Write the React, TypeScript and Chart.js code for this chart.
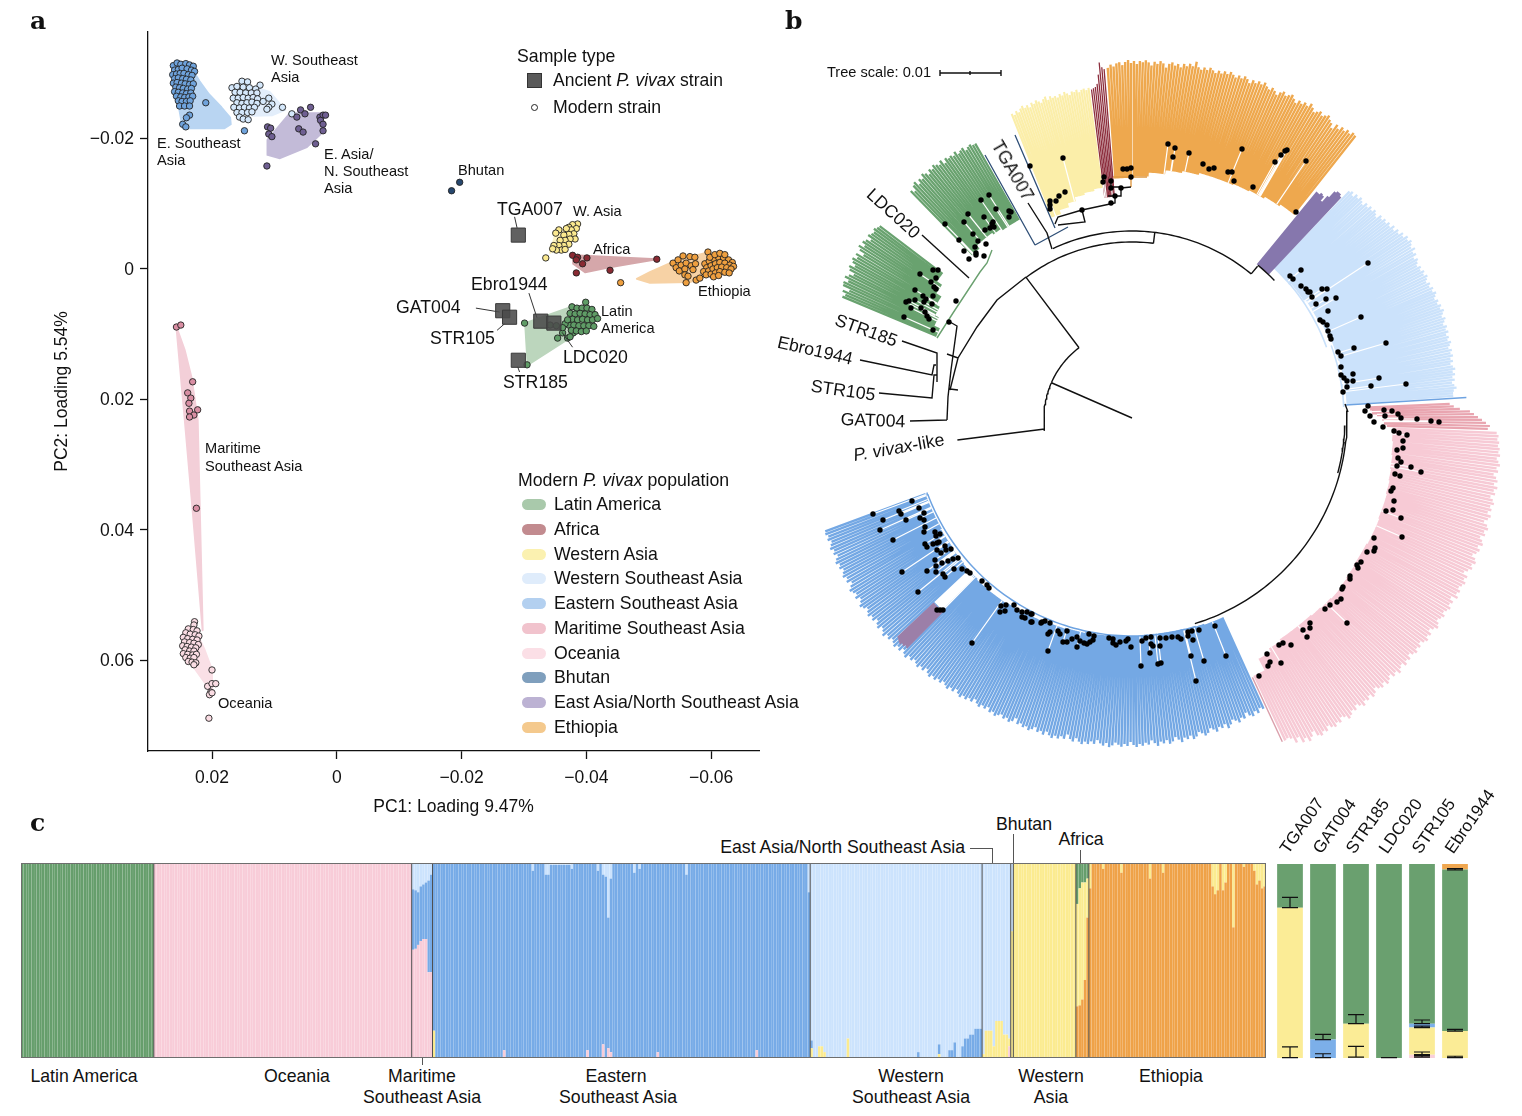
import React, { useEffect, useRef } from "react";
import { Chart, registerables } from "chart.js";

Chart.register(...registerables);

// ---------- Panel a: PCA values (loadings x 1e-4) ----------
const eSEA = [[262,-312],[256,-316],[250,-314],[242,-315],[236,-313],[230,-311],[260,-305],[254,-306],[248,-308],[240,-307],[233,-305],[228,-303],[263,-298],[257,-299],[251,-300],[245,-300],[238,-298],[232,-297],[260,-292],[254,-293],[247,-292],[241,-291],[234,-290],[262,-285],[256,-286],[249,-285],[243,-284],[236,-283],[230,-284],[258,-279],[252,-278],[246,-277],[239,-276],[233,-277],[260,-272],[254,-271],[247,-270],[241,-269],[234,-270],[257,-265],[250,-264],[244,-263],[237,-264],[231,-265],[254,-258],[248,-257],[241,-257],[235,-258],[252,-250],[244,-250],[236,-250],[236,-236],[241,-232],[247,-222],[242,-218],[210,-255],[148,-212]];
const wSEA = [[168,-278],[152,-288],[143,-287],[123,-282],[160,-280],[150,-279],[140,-278],[130,-276],[163,-271],[155,-271],[146,-270],[137,-270],[128,-270],[166,-262],[158,-262],[150,-263],[142,-262],[134,-263],[127,-261],[160,-255],[152,-254],[144,-255],[136,-256],[128,-254],[118,-257],[165,-248],[156,-247],[148,-248],[140,-247],[132,-248],[160,-240],[152,-240],[143,-240],[136,-241],[156,-233],[150,-230],[142,-229],[109,-262],[104,-253],[109,-248],[112,-245],[87,-248],[72,-238]];
const eaNSEA = [[58,-244],[51,-238],[64,-233],[42,-248],[27,-233],[22,-236],[18,-236],[26,-228],[22,-222],[22,-212],[61,-215],[54,-210],[111,-218],[106,-216],[109,-207],[104,-203],[34,-192],[112,-158]];
const bhutan = [[-197,-133],[-184,-120]];
const wAsia = [[-386,-69],[-378,-68],[-372,-64],[-384,-62],[-376,-60],[-368,-62],[-380,-54],[-372,-53],[-364,-52],[-356,-60],[-382,-46],[-374,-46],[-366,-44],[-358,-44],[-351,-55],[-372,-38],[-364,-36],[-356,-36],[-348,-36],[-360,-29],[-352,-29],[-346,-31],[-366,-30],[-335,-17]];
const africa = [[-378,-21],[-386,-18],[-384,-14],[-401,-17],[-394,-8],[-513,-15],[-438,2],[-384,6]];
const ethiopia = [[-539,-9],[-547,-14],[-555,-20],[-566,-19],[-574,-18],[-544,-2],[-552,-6],[-560,-9],[-568,-5],[-575,-8],[-549,3],[-558,0],[-571,1],[-558,9],[-563,11],[-560,21],[-576,17],[-582,14],[-595,-26],[-455,21],[-590,-8],[-597,-12],[-604,-16],[-612,-18],[-620,-17],[-628,-14],[-634,-10],[-593,-2],[-600,-5],[-607,-8],[-614,-10],[-622,-9],[-630,-6],[-636,-4],[-588,4],[-596,3],[-603,0],[-610,-2],[-617,-3],[-625,-2],[-632,0],[-592,9],[-600,8],[-607,6],[-614,4],[-622,5],[-629,6],[-598,-18],[-606,-22],[-614,-24],[-622,-22],[-604,12],[-612,10]];
const latinAm = [[-301,83],[-305,147],[-354,106],[-362,98],[-370,106],[-379,98],[-342,86],[-352,87],[-374,104],[-399,51],[-377,58],[-385,60],[-393,60],[-401,60],[-409,62],[-374,68],[-382,69],[-390,68],[-398,69],[-406,70],[-414,70],[-378,77],[-386,78],[-394,77],[-402,78],[-410,78],[-418,76],[-372,86],[-380,86],[-388,87],[-396,87],[-404,87],[-412,88],[-376,94],[-384,95],[-392,96],[-400,95],[-366,84],[-362,90],[-370,78]];
const maritime = [[257,89],[250,86],[231,173],[239,190],[234,198],[237,206],[236,218],[223,216],[229,224],[236,227],[225,367]];
const oceania = [[228,541],[229,546],[238,552],[230,553],[224,555],[242,558],[235,560],[227,561],[221,563],[246,565],[239,567],[231,568],[224,569],[244,572],[236,573],[229,574],[222,576],[247,578],[240,579],[233,580],[226,581],[243,584],[236,586],[229,586],[246,590],[239,591],[231,592],[225,591],[242,596],[235,597],[229,596],[238,602],[232,603],[226,604],[229,607],[200,615],[207,640],[200,636],[194,636],[202,649],[204,653],[200,650],[205,689]];
const ancient = [[-291,-52],[-266,64],[-277,74],[-327,80],[-348,83],[-291,140]];
const leaders = [[[-285,-80],[-289,-63]],[[-223,60],[-261,66]],[[-257,94],[-269,84]],[[-308,37],[-321,75]],[[-378,120],[-361,97]],[[-293,158],[-290,150]]];
const hullESEA = [[260,-316],[231,-305],[220,-288],[205,-268],[185,-248],[171,-232],[170,-222],[180,-216],[247,-216],[255,-259]];
const hullWSEA = [[128,-278],[107,-271],[83,-244],[103,-236],[135,-235],[156,-259]];
const hullEA = [[75,-239],[27,-239],[19,-213],[48,-187],[91,-170],[111,-175],[111,-198]];
const hullWAsia = [[-351,-55],[-385,-71],[-382,-49],[-342,-25]];
const hullAfrica = [[-379,-21],[-513,-15],[-470,-8],[-433,-2],[-398,5],[-379,-8]];
const hullEthiopia = [[-481,15],[-502,5],[-539,-11],[-593,-25],[-630,-14],[-619,2],[-566,20],[-502,21]];
const hullLatin = [[-302,83],[-377,58],[-417,67],[-401,89],[-306,147]];
const hullMaritime = [[257,89],[244,124],[233,166],[223,232],[215,554],[231,370],[244,227]];
const hullOceania = [[225,558],[212,584],[200,615],[200,650],[241,595],[236,569]];
const pcaTicksX = [0.02, 0, -0.02, -0.04, -0.06];
const pcaTicksY = [-0.02, 0, 0.02, 0.04, 0.06];

// ---------- Panel b: tree tips (radius of each tip) ----------
const tipsLowerGreen = [314,312,316,310,318,319,315,320,317,313,319,321,316,320,322,318,321,314,320,323,318,322,320,316,321,319,318,320,318,317];
const innerLowerGreen = [212,218,222,226,232,238];
const tipsUpperGreen = [317,314,319,321,316,320,318,322,320,317,321,319,322,320,318,321,316,320,318,319,317,320,316,318,319,315,317,318,316,316];
const innerUpperGreen = [228,232,232,230,228,228];
const tipsYellow = [327,325,328,326,329,331,328,330,327,331,329,332,330,328,331,333,329,332,330,331,329,332,330,333,331,329,332,331,333,330,332,333,331,333];
const innerYellow = [216,220,224,228,230,232];
const tipsRed = [331,332,333,336,345,357,352,350];
const innerRed = [222];
const tipsOrange = [351,354,352,355,356,353,356,358,355,357,354,357,356,358,356,353,357,355,358,356,352,356,358,355,357,354,358,356,359,357,362,357,355,358,356,359,357,355,358,356,359,357,360,358,356,359,357,360,358,355,359,357,360,358,361,358,356,359,357,354,358,360,357,359,361,358,355,359,357,360,358,362,359,356,358,360,357,359,361,358,356,352,358,355,359,357,360,358,361,360];
const innerOrange = [240,242,246,250,252,254,254,255,256,258,260];
const tipsPurple = [292,292,294,293,288,296,304,306,306,304];
const innerPurple = [198];
const tipsLtBlue = [314,316,313,317,315,318,316,314,318,316,319,317,320,318,316,321,319,322,320,323,321,325,322,326,324,328,326,330,328,331,329,327,330,326,328,324,327,325,323,326,324,327,325,328,326,324,327,325,328,326,329,327,325,328,326,329,327,330,328,326,329,327,325,328,326,328,325,327,325,328,326,324,327,325,327,324,326,323,325,327,324,326,323,325,322,324,326,323,322,322];
const innerLtBlue = [206,208,210,212,214,215,215];
const tipsSalmon = [318,322,328,338,342,346,350,354,358,356];
const innerSalmon = [238,240,245,250,252,255];
const tipsPink = [365,367,366,368,367,369,368,370,367,369,371,368,370,366,369,371,368,372,369,371,367,370,372,369,371,368,372,370,367,371,373,370,372,368,371,373,369,372,370,367,371,373,370,372,369,366,371,369,372,370,368,371,369,372,366,370,368,371,369,367,370,368,366,369,371,368,365,369,367,370,368,365,368,366,369,367,364,368,366,369,365,367,370,366,368,364,367,369,365,368,366,363,367,369,365,368,366,370,367,364,368,366,369,371,367,365,369,367,370,368,365,369,367,370,368,362,366,369,364,367,360,364,358,356,357];
const innerPink = [261,262,263,264,265,266,266,267,267,266,266,267,268,269,268,267,266,266,266,268,272,285];
const tipsBlue = [319,317,321,318,322,320,316,321,319,323,320,318,322,325,320,323,321,325,322,320,324,326,323,321,325,327,323,326,324,328,325,322,326,328,324,327,325,329,326,323,327,325,328,326,329,327,324,328,326,329,327,325,328,330,326,329,327,324,328,326,329,327,330,328,325,329,327,323,328,326,329,327,330,328,325,329,326,328,324,327,329,326,328,325,327,322,326,328,325,327,324,326,328,325,327,323,326,324,327,325,322,326,324,327,325,328,326,323,327,325,328,326,324,327,325,328,326,329,327,324,328,326,329,327,325,328,326,330,328,325,329,327,330,328,326,329,327,331,328,326,330,328,325,329,327,330,328,326,329,331,328,326,330,327,329,331,328,325,329,327,330,328,326,329,327,330,328,325,328,326,329,327,325,328,326,328,327];
const innerBlue = [219,218,217,217,218,218,219,220,221,222,223,224,224,223,222,221,220,220];
const tipsMauve = [322,321,323,322,324,323,322,321];
const innerMauve = [271];
const tipDots = [36,-274,43,-270,41,-261,57,-265,71,-254,77,-249,82,-250,96,-246,100,-246,102,-237,110,-269,143,-256,149,-263,153,-267,155,-268,121,-231,174,-257,164,-206,-9,-249,-5,-249,-1,-250,-1,-241,-21,-237,-21,-230,-11,-230,-17,-222,-21,-215,-50,-208,-28,-241,-29,-236,
169,-148,158,-142,161,-139,169,-132,174,-129,176,-126,178,-126,180,-121,184,-114,190,-129,195,-129,194,-119,204,-120,196,-107,236,-155,229,-101,188,-98,191,-96,195,-93,196,-87,198,-82,199,-79,222,-70,254,-75,206,-66,209,-62,209,-51,209,-43,212,-40,215,-37,221,-44,221,-37,247,-40,239,-32,274,-34,215,-31,211,-26,
236,-12,233,-7,238,-2,242,4,252,-8,260,-7,266,-4,269,0,253,-2,285,1,299,3,307,4,251,9,262,13,267,15,275,17,271,23,271,30,265,32,266,40,269,44,265,48,279,49,289,54,263,56,268,58,261,70,259,73,262,83,261,92,254,93,269,100,270,119,242,120,243,130,242,133,235,134,229,144,225,147,226,150,218,158,218,161,211,169,210,171,209,181,205,184,198,187,193,191,215,205,178,205,178,210,171,212,175,219,159,227,151,225,147,227,135,236,138,244,136,248,149,245,127,258,
83,208,94,238,67,212,72,243,60,213,56,214,56,218,61,222,59,238,64,263,49,221,46,219,40,219,34,220,28,220,28,228,19,219,14,220,10,223,19,226,21,228,18,235,26,246,29,245,9,248,-1,229,-4,221,-6,223,-12,224,-16,227,-19,225,-19,221,-23,220,-38,218,-43,216,-39,222,-42,224,-45,226,-48,225,-52,223,-55,219,-60,221,-55,229,-65,224,-69,224,-65,213,-74,213,-72,216,-82,214,-84,216,-84,233,-82,205,-87,203,-90,204,-100,204,-100,196,-105,194,-110,194,-107,200,-110,199,
-220,83,-259,96,-213,90,-233,93,-231,96,-208,95,-249,102,-226,102,-212,100,-208,102,-207,109,-252,112,-208,114,-197,114,-196,118,-192,116,-239,122,-207,126,-205,129,-199,126,-195,125,-193,124,-187,128,-181,131,-186,132,-195,132,-191,135,-197,142,-190,145,-184,143,-179,141,-174,140,-196,148,-230,154,-205,153,-196,154,-189,156,-187,159,-178,151,-170,151,-165,153,-162,155,-214,174,-150,163,-145,167,-143,170,-195,192,-189,192,-192,192,-160,225,-131,188,-126,187,-132,194,-127,193,-118,187,-115,192,-101,196,-101,204,-91,205,
-143,-223,-151,-218,-136,-209,-123,-207,-121,-206,-123,-201,-164,-204,-168,-196,-187,-194,-148,-201,-139,-196,-140,-194,-142,-190,-147,-188,-159,-184,-173,-178,-154,-177,-146,-174,-157,-171,-168,-167,-156,-165,-156,-163,-148,-162,-163,-159,-138,-191,
-199,-148,-194,-148,-212,-144,-196,-140,-201,-136,-198,-131,-196,-129,-217,-128,-199,-122,-209,-122,-206,-119,-208,-116,-217,-118,-223,-117,-226,-116,-200,-114,-221,-110,-211,-110,-207,-106,-205,-102,-203,-99,-228,-101,-199,-88,-176,-117,-183,-96,
-69,-260,-102,-252,-67,-226,-73,-222,-76,-217,-82,-217,-82,-213,-82,-209];
const blackBranches = [
  [0,0,-80,-35],[-106,-141,-135,-118,-155,-91,-174,-60,-182,-28],[-182,-29,-174,-28],[-174,-60,-185,-64],
  [-185,2,-184,-21,-181,-48,-175,-92,-182,-96],[-222,3,-185,2],[-230,-77,-195,-65,-195,-36],[-272,-58,-200,-43,-198,-53,-196,-53],[-253,-25,-200,-20,-198,-43,-195,-43],
  [-104,-215,-85,-185,-80,-169],[-74,-193,-47,-196,-50,-208,-74,-201,-77,-194],[-50,-208,-22,-214,-17,-215,-17,-222,-11,-222,-11,-230,-1,-231],[-21,-237,-21,-231,-11,-231],[-17,-222,-24,-222],
  [-192,-345,-131,-345],[-192,-348,-192,-342],[-162,-347,-162,-343],[-131,-348,-131,-342],[213,-14,216,-6]];
const blackArcs = [[88,262,323],[176,323,367],[187,335,399.6],[198,39.5,46],[215,88,163],[213,92,105]];
const blackRadials = [[262.8,88,176],[323,88,176],[7,176,187],[39.6,187,197]];
const greenBranches = [[-195,-80,-179,-105,-152,-146,-145,-155,-140,-168],[-210,-183,-163,-140]];
const navyBranches = [[-97,-173,-147,-263],[-117,-283,-77,-190],[-97,-173,-64,-191]];
const orangeBranches = [[-1,-231,-1,-241,-19,-241],[-1,-241,15,-241]];
const ltBlueArcs = [[207,46,70],[212,70,87]];
const blueArcs = [[218,163,250]];
const blueRadials = [[86.5,214,335]];
const pinkEdgeRadials = [[155.1,286,357]];
const whiteGapAngles = [224.9,225.4,225.9,226.4,226.8];
const whiteGapRadii = [225,270];

// ---------- Panel c: admixture ----------
// [bars, pink, orange, yellow, blue, light blue, green]
const admixRuns = [
  [51,0,0,0,0,0,1],[99,1,0,0,0,0,0],
  [1,.555,0,0,.31,.135,0],[1,.56,0,0,.3,.14,0],[1,.58,0,0,.27,.15,0],[1,.6,0,0,.28,.12,0],[1,.61,0,0,.28,.11,0],[1,.61,0,0,.29,.1,0],[1,.44,0,0,.47,.09,0],[1,.44,0,0,.5,.06,0],
  [1,0,0,.14,.86,0,0],[26,0,0,0,1,0,0],[1,.04,0,0,.96,0,0],[10,0,0,0,1,0,0],[1,0,0,0,.96,.04,0],[4,0,0,0,1,0,0],[2,0,0,0,.94,.06,0],[8,0,0,0,.99,.01,0],[1,0,0,0,.97,.03,0],[5,0,0,0,1,0,0],[1,.04,0,0,.96,0,0],[3,0,0,0,1,0,0],[1,0,0,0,.96,.04,0],[1,0,0,0,1,0,0],[1,.07,0,0,.87,.06,0],[1,0,0,0,.93,.07,0],[1,.05,0,0,.67,.28,0],[1,.03,0,0,.89,.08,0],[8,0,0,0,1,0,0],[1,0,0,0,.95,.05,0],[1,0,0,0,1,0,0],[1,0,0,0,.97,.03,0],[6,0,0,0,1,0,0],[1,.03,0,0,.97,0,0],[10,0,0,0,1,0,0],[1,0,0,0,.94,.06,0],[26,0,0,0,1,0,0],[1,.04,0,0,.96,0,0],[19,0,0,0,1,0,0],[1,0,0,0,.85,.15,0],
  [1,0,0,.05,.04,.91,0],[2,0,0,0,0,1,0],[2,0,0,.06,0,.94,0],[1,0,0,.03,0,.97,0],[8,0,0,0,0,1,0],[1,0,0,.1,0,.9,0],[26,0,0,0,0,1,0],[1,0,0,0,.03,.97,0],[7,0,0,0,0,1,0],[1,0,0,.02,.05,.93,0],[3,0,0,0,0,1,0],[2,0,0,0,.04,.96,0],[1,0,0,0,.08,.92,0],[2,0,0,0,0,1,0],[1,0,0,0,.06,.94,0],[2,0,0,0,.1,.9,0],[2,0,0,0,.12,.88,0],[2,0,0,0,.15,.85,0],[1,0,0,0,.15,.85,0],
  [1,0,0,.02,0,.98,0],[3,0,0,.14,0,.86,0],[1,0,0,.06,0,.94,0],[3,0,0,.19,0,.81,0],[2,0,0,.12,0,.88,0],[1,.06,0,.04,0,.9,0],
  [1,0,0,.65,0,.35,0],[24,0,0,1,0,0,0],
  [1,0,.265,.525,0,0,.21],[1,0,.27,.6,0,0,.13],[1,0,.3,.6,0,0,.1],[1,0,.4,.5,0,0,.1],[1,0,.72,.2,0,0,.08],
  [1,0,.87,.13,0,0,0],[4,0,1,0,0,0,0],[1,0,.97,.03,0,0,0],[6,0,1,0,0,0,0],[1,0,.95,.05,0,0,0],[10,0,1,0,0,0,0],[1,0,.92,.08,0,0,0],[4,0,1,0,0,0,0],[1,0,.95,.05,0,0,0],[18,0,1,0,0,0,0],[1,0,.88,.12,0,0,0],[1,0,.84,.16,0,0,0],[1,0,.86,.14,0,0,0],[1,0,1,0,0,0,0],[1,0,.86,.14,0,0,0],[1,0,.9,.1,0,0,0],[2,0,1,0,0,0,0],[1,0,.67,.33,0,0,0],[3,0,1,0,0,0,0],[1,0,.98,.02,0,0,0],[3,0,1,0,0,0,0],[1,0,.96,.04,0,0,0],[1,0,.89,.11,0,0,0],[1,0,.91,.09,0,0,0],[1,0,.87,.13,0,0,0],[1,0,.88,.12,0,0,0]];
const popBoundaries = [51,150,158,303,369,380,381,405,410];
const ancientNames = ["TGA007","GAT004","STR185","LDC020","STR105","Ebro1944"];
const ancPink = [0,0,0,0,.017,0];
const ancYellow = [.775,0,.177,0,.14,.139];
const ancBlue = [0,.095,0,0,.02,0];
const ancGreen = [.225,.905,.823,1,.823,.833];
const ancOrange = [0,0,0,0,0,.028];
const ancErrors = [[0,.775,.828],[0,.002,.057],[1,.095,.122],[1,.002,.022],[2,.177,.224],[2,.005,.06],[3,.002,.002],[4,.177,.196],[4,.157,.164],[4,.017,.031],[4,.005,.012],[5,.969,.976],[5,.139,.148],[5,.002,.009]];

// ---------- colours ----------
const C = { green:"#6aa06f", pink:"#f9d0da", lt:"#cfe5fd", blue:"#7cafe9", yellow:"#fbec96", orange:"#f0a750" };
const S = { green:"#669e6c", pink:"#f8ccd8", lt:"#cce3fd", blue:"#77abe7", yellow:"#fbeb90", orange:"#efa248" };
const legendRows: [string,string,number][] = [["Latin America","#a9c9ab",504],["Africa","#c28b8f",529],["Western Asia","#fbf1b0",554],["Western Southeast Asia","#dfecfb",578],["Eastern Southeast Asia","#b3d0f0",603],["Maritime Southeast Asia","#f1c3cd",628],["Oceania","#fbdfe6",653],["Bhutan","#7f9fbd",677],["East Asia/North Southeast Asia","#bcb2d3",702],["Ethiopia","#f4c98d",727]];

const FONT = "'Liberation Sans', Arial, sans-serif";
const GAP = { x: NaN, y: NaN };
const polar = (r: number, deg: number) => ({ x: r * Math.sin(deg * Math.PI / 180), y: -r * Math.cos(deg * Math.PI / 180) });
const scaled = (a: number[][]) => a.map(([x, y]) => ({ x: x / 1e4, y: y / 1e4 }));

function tipClade(tips: number[], inner: number[], a: number, b: number) { return { tips, inner, a, b }; }
const clades = [
  { c: tipClade(tipsPurple, innerPurple, 39.2, 43.5), color: "#8677ad", lw: 2.6 },
  { c: tipClade(tipsLtBlue, innerLtBlue, 43.6, 86.3), color: "#cbe2fb", lw: 2.3 },
  { c: tipClade(tipsSalmon, innerSalmon, 87.2, 92), color: "#e9a5b0", lw: 2.2 },
  { c: tipClade(tipsPink, innerPink, 92.1, 154.8), color: "#f7cad5", lw: 2.5 },
  { c: tipClade(tipsBlue, innerBlue, 155.4, 250), color: "#74a8e4", lw: 2.4 },
  { c: tipClade(tipsLowerGreen, innerLowerGreen, 292.5, 307.5), color: "#69a26f", lw: 2.3 },
  { c: tipClade(tipsUpperGreen, innerUpperGreen, 315.5, 330.5), color: "#69a26f", lw: 2.3 },
  { c: tipClade(tipsYellow, innerYellow, 338.2, 352.7), color: "#fbeea9", lw: 2.1 },
  { c: tipClade(tipsRed, innerRed, 352.8, 355.6), color: "#8d2f3e", lw: 1.3 },
  { c: tipClade(tipsOrange, innerOrange, 355.8, 398.6), color: "#eea84e", lw: 2.4 },
];
function innerAt(c: any, i: number) { return c.inner[Math.floor(i / c.tips.length * c.inner.length)]; }
function tipSegments(c: any) {
  const out: any[] = [];
  c.tips.forEach((r: number, i: number) => {
    const t = c.a + (c.b - c.a) * (i + .5) / c.tips.length;
    out.push(polar(innerAt(c, i), t), polar(r, t), GAP);
  });
  return out;
}
function polylines(list: number[][]) {
  const out: any[] = [];
  list.forEach(l => { for (let i = 0; i < l.length; i += 2) out.push({ x: l[i], y: l[i + 1] }); out.push(GAP); });
  return out;
}
function arcs(list: number[][]) {
  const out: any[] = [];
  list.forEach(([r, a, b]) => { for (let t = a; t < b; t += 1.2) out.push(polar(r, t)); out.push(polar(r, b), GAP); });
  return out;
}
function radials(list: number[][]) {
  const out: any[] = [];
  list.forEach(([t, a, b]) => out.push(polar(a, t), polar(b, t), GAP));
  return out;
}
const dotPoints = () => { const o: any[] = []; for (let i = 0; i < tipDots.length; i += 2) o.push({ x: tipDots[i], y: tipDots[i + 1] }); return o; };
function whiteLinks() {
  const out: any[] = [];
  dotPoints().forEach(p => {
    const r = Math.hypot(p.x, p.y);
    let t = Math.atan2(p.x, -p.y) * 180 / Math.PI; if (t < 39) t += 360;
    const hit = clades.find(k => t >= k.c.a && t <= k.c.b);
    if (!hit) return;
    const idx = Math.floor((t - hit.c.a) / (hit.c.b - hit.c.a) * hit.c.tips.length);
    const ir = innerAt(hit.c, Math.min(idx, hit.c.tips.length - 1));
    if (r - ir > 14) out.push(p, polar(ir, t), GAP);
  });
  return out;
}

const lineDs = (data: any[], color: string, width: number) => ({ type: "scatter", data, showLine: true, borderColor: color, borderWidth: width, pointRadius: 0, spanGaps: false, tension: 0 });
const base = { responsive: false, animation: false, events: [] as string[], plugins: { legend: { display: false }, tooltip: { enabled: false } } };

const hullsPlugin = {
  id: "hulls",
  beforeDatasetsDraw(c: any) {
    const { ctx, scales: { x, y } } = c;
    ([[hullESEA,"#b9d5f2"],[hullWSEA,"#e3eefb"],[hullEA,"#c3bbd8"],[hullWAsia,"#fdf4c4"],[hullAfrica,"#d5a7aa"],[hullEthiopia,"#f7d2a5"],[hullLatin,"#bcd6bd"],[hullMaritime,"#f3cfd8"],[hullOceania,"#fae0e6"]] as [number[][], string][]).forEach(([h, col]) => {
      ctx.save(); ctx.fillStyle = col; ctx.strokeStyle = col; ctx.lineJoin = "round"; ctx.lineWidth = 2; ctx.beginPath();
      h.forEach(([a, b], i) => { const px = x.getPixelForValue(a / 1e4), py = y.getPixelForValue(b / 1e4); i ? ctx.lineTo(px, py) : ctx.moveTo(px, py); });
      ctx.closePath(); ctx.fill(); ctx.stroke(); ctx.restore();
    });
  },
};
const framePlugin = {
  id: "frame",
  afterDatasetsDraw(c: any) {
    const { ctx, chartArea: a, scales: { x } } = c;
    const half = (x.getPixelForValue(1) - x.getPixelForValue(0)) / 2;
    ctx.save(); ctx.strokeStyle = "#4f4f4f"; ctx.lineWidth = 1;
    popBoundaries.forEach(i => { const px = x.getPixelForValue(i) - half; ctx.beginPath(); ctx.moveTo(px, a.top); ctx.lineTo(px, a.bottom); ctx.stroke(); });
    ctx.strokeStyle = "#6e6e6e"; ctx.strokeRect(a.left + .5, a.top + .5, a.right - a.left - 1, a.bottom - a.top - 1);
    ctx.restore();
  },
};
const errorPlugin = {
  id: "errs",
  afterDatasetsDraw(c: any) {
    const { ctx, scales: { x, y } } = c;
    ctx.save(); ctx.strokeStyle = "#111"; ctx.lineWidth = 1.2;
    ancErrors.forEach(([i, lo, hi]) => {
      const px = x.getPixelForValue(i), a = y.getPixelForValue(lo), b = y.getPixelForValue(hi);
      ctx.beginPath(); ctx.moveTo(px, a); ctx.lineTo(px, b); ctx.moveTo(px - 8, a); ctx.lineTo(px + 8, a); ctx.moveTo(px - 8, b); ctx.lineTo(px + 8, b); ctx.stroke();
    });
    ctx.restore();
  },
};
const fmt = (v: number) => v === 0 ? "0" : (v < 0 ? "\u2212" : "") + Math.abs(v).toFixed(2);

function T({ x, y, size = 17.7, align = "left", rot = 0, weight, family, color = "#111", children }: any) {
  const tx = align === "left" ? "0" : align === "center" ? "-50%" : "-100%";
  return <div style={{ position: "absolute", left: x, top: size < 15 ? y : y + 1, transform: `translate(${tx},-50%) rotate(${rot}deg)`, fontSize: size, fontFamily: family || FONT, fontWeight: weight, color, whiteSpace: "nowrap", lineHeight: 1 }}>{children}</div>;
}
function Rule({ x, y, w = 1, h = 1 }: any) { return <div style={{ position: "absolute", left: x, top: y, width: w, height: h, background: "#555" }} />; }

export default function App() {
  const aRef = useRef<HTMLCanvasElement>(null), bRef = useRef<HTMLCanvasElement>(null), cRef = useRef<HTMLCanvasElement>(null), dRef = useRef<HTMLCanvasElement>(null);
  useEffect(() => {
    const pop = (d: number[][], fill: string) => ({ data: scaled(d), backgroundColor: fill, borderColor: "#222", borderWidth: .9, pointRadius: 3.2 });
    const axisFont = { family: FONT, size: 17.5 };
    const chartA = new Chart(aRef.current!, {
      type: "scatter",
      data: { datasets: [
        { data: scaled(ancient), pointStyle: "rect", pointRadius: 10, backgroundColor: "rgba(75,75,75,.88)", borderColor: "#3a3a3a", borderWidth: 1 },
        ...leaders.map(l => lineDs(scaled(l), "#333", 1)),
        pop(latinAm, "#5f9c66"), pop(ethiopia, "#ee9f3f"), pop(africa, "#8a2a33"), pop(wAsia, "#fbe98f"), pop(bhutan, "#27476e"),
        pop(eaNSEA, "#6f5f92"), pop(wSEA, "#d5e8fb"), pop(eSEA, "#6fa3dc"), pop(oceania, "#fadce3"), pop(maritime, "#d98ea3"),
      ] as any },
      options: { ...base, layout: { autoPadding: false, padding: { left: 52, right: 21, top: 32, bottom: 12 } },
        scales: {
          x: { type: "linear", reverse: true, min: -0.06768, max: 0.03026, afterBuildTicks: (s: any) => { s.ticks = pcaTicksX.map(value => ({ value })); }, afterFit: (s: any) => { s.height = 67; },
            border: { color: "#111", width: 1.3 }, grid: { drawOnChartArea: false, color: "#111", tickLength: 8, tickWidth: 1.3 },
            ticks: { color: "#111", font: axisFont, padding: 9, maxRotation: 0, callback: (v: any) => fmt(v) }, title: { display: true, text: "PC1: Loading 9.47%", color: "#111", font: axisFont, padding: 0 } },
          y: { type: "linear", reverse: true, min: -0.03635, max: 0.07393, afterBuildTicks: (s: any) => { s.ticks = pcaTicksY.map(value => ({ value })); }, afterFit: (s: any) => { s.width = 96; },
            border: { color: "#111", width: 1.3 }, grid: { drawOnChartArea: false, color: "#111", tickLength: 8, tickWidth: 1.3 },
            ticks: { color: "#111", font: axisFont, padding: 6, labelOffset: 1, callback: (v: any) => fmt(v) }, title: { display: true, text: "PC2: Loading 5.54%", color: "#111", font: axisFont, padding: 0 } },
        } } as any,
      plugins: [hullsPlugin],
    });
    const tipDatasets = clades.map(k => lineDs(tipSegments(k.c), k.color, k.lw));
    const chartB = new Chart(bRef.current!, {
      type: "scatter",
      data: { datasets: [
        { data: dotPoints(), backgroundColor: "#000", borderWidth: 0, pointRadius: 2.7 },
        lineDs([...polylines(blackBranches), ...arcs(blackArcs), ...radials(blackRadials)], "#111", 1.4),
        lineDs(polylines(navyBranches), "#2f4f77", 1.3),
        lineDs(polylines(greenBranches.slice(0, 1)), "#6aa06f", 1.4),
        lineDs(polylines(greenBranches.slice(1)), "#111", 1.4),
        lineDs(polylines(orangeBranches), "#e09a45", 1.4),
        lineDs(arcs(ltBlueArcs), "#c8e0fa", 1.6),
        lineDs([...arcs(blueArcs), ...radials(blueRadials)], "#6ea3e1", 1.5),
        lineDs(radials(pinkEdgeRadials), "#dba0ac", 1.4),
        lineDs(whiteLinks(), "#ffffff", 1.2),
        lineDs(tipSegments(tipClade(tipsMauve, innerMauve, 224.3, 227)), "#9c7fa8", 2.2),
        lineDs(radials(whiteGapAngles.map(t => [t, whiteGapRadii[0], whiteGapRadii[1]])), "#ffffff", 2.4),
        ...tipDatasets,
      ] as any },
      options: { ...base, layout: { autoPadding: false, padding: 0 }, scales: { x: { type: "linear", display: false, min: -352, max: 390 }, y: { type: "linear", display: false, reverse: true, min: -418, max: 372 } } } as any,
    });
    const expanded = admixRuns.flatMap(r => Array.from({ length: r[0] }, () => r.slice(1)));
    const comp = (i: number, color: string) => ({ data: expanded.map(r => r[i]), backgroundColor: color, borderWidth: 0, barPercentage: .96, categoryPercentage: 1 });
    const chartC = new Chart(cRef.current!, {
      type: "bar",
      data: { labels: expanded.map((_, i) => String(i)), datasets: [comp(0, S.pink), comp(1, S.orange), comp(2, S.yellow), comp(3, S.blue), comp(4, S.lt), comp(5, S.green)] },
      options: { ...base, layout: { padding: 0 }, scales: { x: { stacked: true, display: false }, y: { stacked: true, display: false, min: 0, max: 1 } } } as any,
      plugins: [framePlugin],
    });
    const anc = (data: number[], color: string) => ({ data, backgroundColor: color, borderWidth: 0, barPercentage: .78, categoryPercentage: 1 });
    const chartD = new Chart(dRef.current!, {
      type: "bar",
      data: { labels: ancientNames, datasets: [anc(ancPink, C.pink), anc(ancYellow, C.yellow), anc(ancBlue, C.blue), anc(ancGreen, C.green), anc(ancOrange, C.orange)] },
      options: { ...base, layout: { padding: { left: 13.5, right: 50.5, top: 0, bottom: 4 } }, scales: {
        x: { stacked: true, position: "top", afterFit: (s: any) => { s.height = 84; }, border: { display: false }, grid: { display: false, drawTicks: false }, ticks: { color: "#111", font: { family: FONT, size: 17 }, minRotation: 55, maxRotation: 55, padding: 6, labelOffset: 11, autoSkip: false } },
        y: { stacked: true, display: false, min: 0, max: 1 } } } as any,
      plugins: [errorPlugin],
    });
    return () => { chartA.destroy(); chartB.destroy(); chartC.destroy(); chartD.destroy(); };
  }, []);
  const small = 14.6;
  const cv = (l: number, t: number) => ({ position: "absolute", left: l, top: t } as React.CSSProperties);
  return (
    <div style={{ position: "absolute", left: 0, top: 0, width: 1522, height: 1116, background: "#fff", overflow: "hidden", fontFamily: FONT }}>
      <canvas ref={aRef} width={780} height={830} style={cv(0, 0)} />
      <canvas ref={bRef} width={742} height={790} style={cv(780, 0)} />
      <canvas ref={cRef} width={1245} height={195} style={cv(21, 863)} />
      <canvas ref={dRef} width={262} height={282} style={cv(1260, 780)} />

      <T x={30} y={19} size={25} weight={700} family="'DejaVu Serif'">a</T>
      <T x={785} y={19} size={25} weight={700} family="'DejaVu Serif'">b</T>
      <T x={30} y={821} size={25} weight={700} family="'DejaVu Serif'">c</T>

      <T x={517} y={56}>Sample type</T>
      <div style={{ position: "absolute", left: 527, top: 73, width: 13, height: 13, background: "#5a5a5a", border: "1px solid #333" }} />
      <T x={553} y={80} size={17.5}>Ancient <i>P. vivax</i> strain</T>
      <div style={{ position: "absolute", left: 531, top: 104, width: 5, height: 5, borderRadius: 5, background: "#fff", border: "1px solid #222" }} />
      <T x={553} y={107}>Modern strain</T>

      <T x={271} y={60} size={small}>W. Southeast</T><T x={271} y={77} size={small}>Asia</T>
      <T x={157} y={143} size={small}>E. Southeast</T><T x={157} y={160} size={small}>Asia</T>
      <T x={324} y={154} size={small}>E. Asia/</T><T x={324} y={171} size={small}>N. Southeast</T><T x={324} y={188} size={small}>Asia</T>
      <T x={458} y={170} size={small}>Bhutan</T>
      <T x={573} y={211} size={small}>W. Asia</T>
      <T x={593} y={249} size={small}>Africa</T>
      <T x={698} y={291} size={small}>Ethiopia</T>
      <T x={601} y={311} size={small}>Latin</T><T x={601} y={328} size={small}>America</T>
      <T x={205} y={448} size={small}>Maritime</T><T x={205} y={466} size={small}>Southeast Asia</T>
      <T x={218} y={703} size={small}>Oceania</T>
      <T x={497} y={209}>TGA007</T><T x={471} y={284}>Ebro1944</T><T x={396} y={307}>GAT004</T><T x={430} y={338}>STR105</T><T x={503} y={382}>STR185</T><T x={563} y={357}>LDC020</T>

      <T x={518} y={480}>Modern <i>P. vivax</i> population</T>
      {legendRows.map(([name, col, y]) => (
        <React.Fragment key={name}>
          <div style={{ position: "absolute", left: 522, top: y - 5.5, width: 24, height: 11, borderRadius: 6, background: col }} />
          <T x={554} y={y}>{name}</T>
        </React.Fragment>
      ))}

      <T x={827} y={72} size={small}>Tree scale: 0.01</T>
      <T x={1012} y={170} rot={60} align="center">TGA007</T>
      <T x={893} y={213} rot={42} align="center">LDC020</T>
      <T x={866} y={330} rot={20} align="center">STR185</T>
      <T x={815} y={350} rot={13} align="center">Ebro1944</T>
      <T x={843} y={390} rot={8} align="center">STR105</T>
      <T x={873} y={420} rot={2} align="center">GAT004</T>
      <T x={899} y={447} rot={-10} align="center"><i>P. vivax</i>-like</T>

      <T x={965} y={847} align="right">East Asia/North Southeast Asia</T>
      <T x={1024} y={824} align="center">Bhutan</T>
      <T x={1081} y={839} align="center">Africa</T>
      <Rule x={970} y={848} w={22} /><Rule x={992} y={848} h={15} />
      <Rule x={1013} y={834} h={29} />
      <Rule x={1080} y={850} h={13} />
      <Rule x={422} y={1058} h={7} />
      <T x={84} y={1076} align="center">Latin America</T>
      <T x={297} y={1076} align="center">Oceania</T>
      <T x={422} y={1076} align="center">Maritime</T><T x={422} y={1097} align="center">Southeast Asia</T>
      <T x={616} y={1076} align="center">Eastern</T><T x={618} y={1097} align="center">Southeast Asia</T>
      <T x={911} y={1076} align="center">Western</T><T x={911} y={1097} align="center">Southeast Asia</T>
      <T x={1051} y={1076} align="center">Western</T><T x={1051} y={1097} align="center">Asia</T>
      <T x={1171} y={1076} align="center">Ethiopia</T>
    </div>
  );
}
